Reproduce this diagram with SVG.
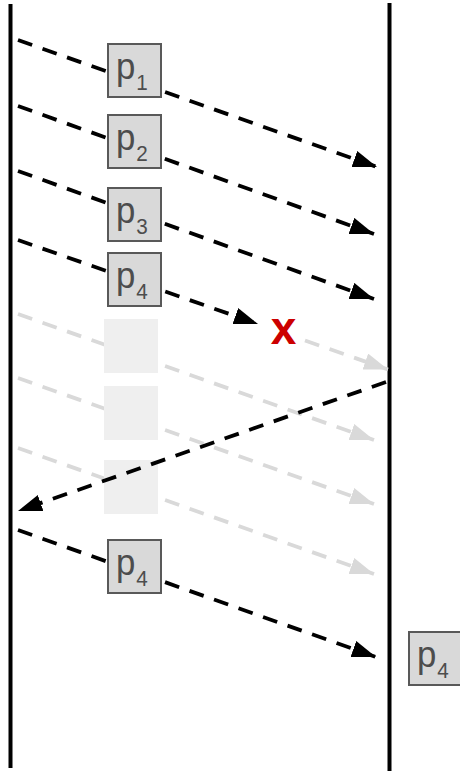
<svg xmlns="http://www.w3.org/2000/svg" width="460" height="771" viewBox="0 0 460 771">
  <style>
    .lifeline { stroke: #000; stroke-width: 4; }
    .msg { fill: none; stroke: #000; stroke-width: 3.8; stroke-dasharray: 15 11; marker-end: url(#headBlack); }
    .lost { fill: none; stroke: #d9d9d9; stroke-width: 3.8; stroke-dasharray: 15 11; marker-end: url(#headGrey); }
    .pkt rect { fill: #d9d9d9; stroke: #595959; stroke-width: 2; }
    .ghost rect { fill: #efefef; }
    .lbl { font-family: "Liberation Sans", Arial, sans-serif; fill: #4d4d4d; }
    .main { font-size: 37px; }
    .sub { font-size: 22px; }
    .drop { font-family: "Liberation Sans", Arial, sans-serif; font-weight: bold; font-size: 46px; fill: #cc0000; }
  </style>
  <defs>
    <marker id="headBlack" markerUnits="userSpaceOnUse" markerWidth="26" markerHeight="18" refX="24" refY="8.5" orient="auto">
      <path d="M0,0 L24,8.5 L0,17 z" fill="#000"/>
    </marker>
    <marker id="headGrey" markerUnits="userSpaceOnUse" markerWidth="26" markerHeight="18" refX="24" refY="8.5" orient="auto">
      <path d="M0,0 L24,8.5 L0,17 z" fill="#d9d9d9"/>
    </marker>
  </defs>

  <!-- sender and receiver timelines -->
  <g id="sender"><line class="lifeline" x1="10.5" y1="4" x2="10.5" y2="768"/></g>
  <g id="receiver"><line class="lifeline" x1="389.5" y1="3" x2="389.5" y2="771"/></g>

  <!-- lost / discarded transmissions -->
  <g id="connectors-lost">
    <line class="lost" x1="305" y1="340.5" x2="388" y2="369.5"/>
    <line class="lost" x1="18" y1="314" x2="374" y2="440"/>
    <line class="lost" x1="18" y1="378" x2="374" y2="504"/>
    <line class="lost" x1="18" y1="448" x2="374" y2="574"/>
  </g>

  <!-- discarded packet slots -->
  <g id="ghost1" class="ghost"><rect x="104" y="319" width="54" height="54"/></g>
  <g id="ghost2" class="ghost"><rect x="104" y="386" width="54" height="54"/></g>
  <g id="ghost3" class="ghost"><rect x="104" y="460" width="54" height="54"/></g>

  <!-- delivered transmissions and the returning signal -->
  <g id="connectors">
    <line class="msg" x1="18" y1="40" x2="377" y2="167"/>
    <line class="msg" x1="18" y1="106" x2="374" y2="234"/>
    <line class="msg" x1="18" y1="171" x2="374" y2="299"/>
    <line class="msg" x1="18" y1="240" x2="258" y2="324"/>
    <line class="msg" x1="386" y1="382" x2="18" y2="511"/>
    <line class="msg" x1="18" y1="530" x2="376" y2="657"/>
  </g>

  <!-- drop marker -->
  <g id="drop"><text class="drop" x="283.5" y="344" text-anchor="middle">x</text></g>

  <!-- packets: labels are set slightly narrow -->
  <g id="p1" class="pkt">
    <rect x="108" y="44" width="53" height="53"/>
    <text class="lbl" transform="translate(116 79) scale(0.94 1)"><tspan class="main">p</tspan><tspan class="sub" dx="1" dy="11">1</tspan></text>
  </g>
  <g id="p2" class="pkt">
    <rect x="108" y="115" width="53" height="53"/>
    <text class="lbl" transform="translate(116 150) scale(0.94 1)"><tspan class="main">p</tspan><tspan class="sub" dx="1" dy="11">2</tspan></text>
  </g>
  <g id="p3" class="pkt">
    <rect x="108" y="188" width="53" height="53"/>
    <text class="lbl" transform="translate(116 223) scale(0.94 1)"><tspan class="main">p</tspan><tspan class="sub" dx="1" dy="11">3</tspan></text>
  </g>
  <g id="p4" class="pkt">
    <rect x="108" y="253" width="53" height="53"/>
    <text class="lbl" transform="translate(116 288) scale(0.94 1)"><tspan class="main">p</tspan><tspan class="sub" dx="1" dy="11">4</tspan></text>
  </g>
  <g id="p4-resend" class="pkt">
    <rect x="108" y="540" width="53" height="53"/>
    <text class="lbl" transform="translate(116 575) scale(0.94 1)"><tspan class="main">p</tspan><tspan class="sub" dx="1" dy="11">4</tspan></text>
  </g>
  <g id="p4-received" class="pkt">
    <rect x="409" y="632" width="53" height="53"/>
    <text class="lbl" transform="translate(417 667) scale(0.94 1)"><tspan class="main">p</tspan><tspan class="sub" dx="1" dy="11">4</tspan></text>
  </g>
</svg>
